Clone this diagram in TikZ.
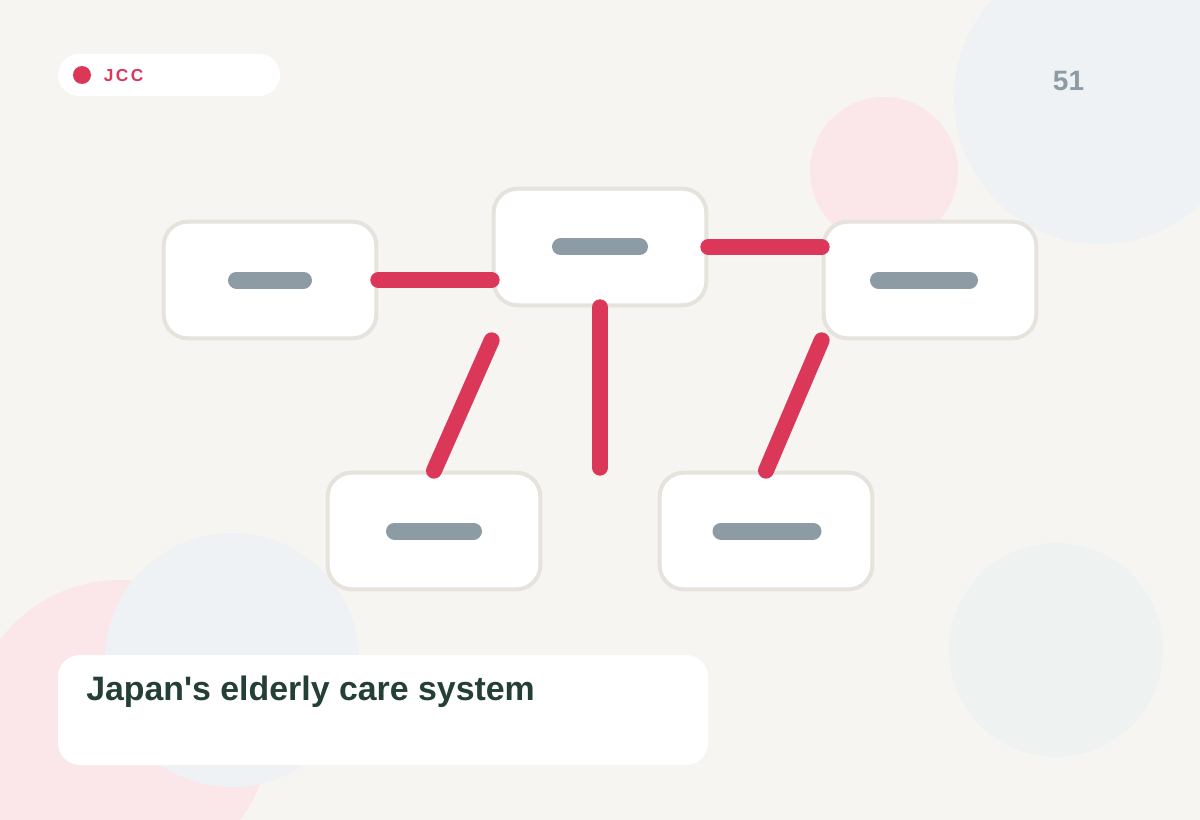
\documentclass[tikz,border=0pt]{standalone}
\usepackage{fontspec}
\newfontfamily\hv{Liberation Sans}[Ligatures=TeXOff]
\definecolor{bgc}{HTML}{F7F5F1}
\definecolor{bluec}{HTML}{EFF2F4}
\definecolor{pinkc}{HTML}{FBE6EA}
\definecolor{greenc}{HTML}{EEF2F0}
\definecolor{redc}{HTML}{DB3759}
\definecolor{grayc}{HTML}{8C9BA4}
\definecolor{edgec}{HTML}{E6E3DD}
\definecolor{titlec}{HTML}{243F36}
\tikzset{
  card/.style={draw=edgec, line width=3pt, fill=white, rounded corners=18pt,
    minimum width=159.5pt, minimum height=87.5pt, inner sep=0pt},
  barline/.style={draw=grayc, line width=12.75pt, line cap=round},
  link/.style={draw=redc, line width=12pt, line cap=round}
}
\begin{document}
\begin{tikzpicture}[x=0.75pt,y=-0.75pt]
\useasboundingbox (0,0) rectangle (1200,820);
\fill[bgc] (0,0) rectangle (1200,820);
% background circles
\begin{scope}
\clip (0,0) rectangle (1200,820);
\fill[bluec] (1100,98) circle[radius=146];
\fill[pinkc] (884,171) circle[radius=74];
\fill[greenc] (1056,650) circle[radius=107];
\fill[pinkc] (120,730) circle[radius=150];
\fill[bluec] (232,660) circle[radius=127];
\end{scope}
% header pill
\fill[white, rounded corners=15.75pt] (58,54) rectangle (280,96);
\fill[redc] (82,75) circle[radius=9];
\node[anchor=west, inner sep=0pt, text=redc, font=\hv\bfseries\fontsize{13}{14}\selectfont\addfontfeature{LetterSpace=14}] (brand) at (103.5,75.5) {JCC};
\node[anchor=center, inner sep=0pt, text=grayc, font=\hv\bfseries\fontsize{21}{24}\selectfont] (page) at (1068.5,81) {51};
% cards
\node[card] (A) at (270,280) {};
\node[card] (B) at (600,247) {};
\node[card] (C) at (930,280) {};
\node[card] (D) at (434,531) {};
\node[card] (E) at (766,531) {};
% placeholder bars
\draw[barline] (A) ++(-33.5,0) -- ++(67,0);
\draw[barline] (B) ++(-39.5,0) -- ++(79,0);
\draw[barline] (C) ++(-51.5,0) -- ++(91,0);
\draw[barline] (D) ++(-39.5,0) -- ++(79,0);
\draw[barline] (E) ++(-45,0) -- ++(92,0);
% connectors
\coordinate (bd) at (B.south west |- A.south);
\draw[link] (A.east) -- (A.east -| B.west);
\draw[link] (B.east) -- (B.east -| C.west);
\draw[link] (bd) -- (D.north);
\draw[link] (B.south) -- ([yshift=2.25pt]B.south |- D.north);
\draw[link] (C.south west) -- (E.north);
% caption
\fill[white, rounded corners=16.5pt] (58,655) rectangle (708,765);
\node[anchor=base west, inner sep=0pt, text=titlec, font=\hv\bfseries\fontsize{25.4}{30}\selectfont] (title) at (86,700) {Japan's elderly care system};
\end{tikzpicture}
\end{document}
